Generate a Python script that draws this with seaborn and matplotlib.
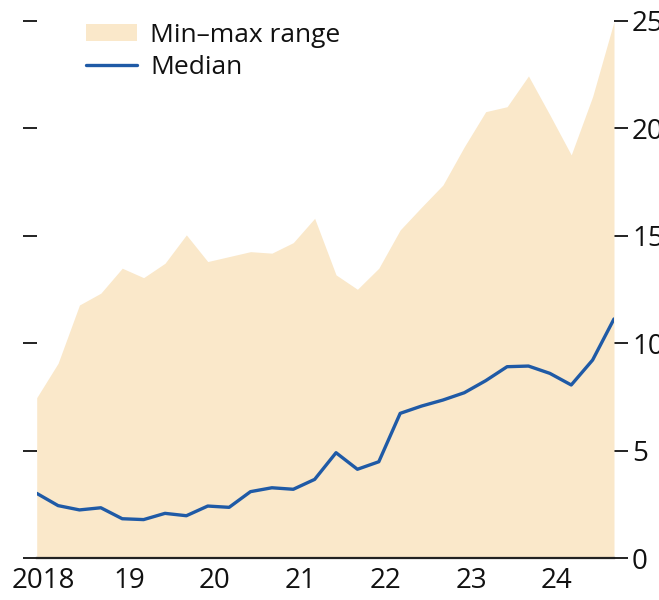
import numpy as np
import pandas as pd
import matplotlib
matplotlib.use("Agg")
import matplotlib.pyplot as plt
import seaborn as sns
from matplotlib.patches import Patch
from matplotlib.lines import Line2D

# ---- data (quarterly, 2018 Q1 .. 2024 Q4) ----
quarter_index = list(range(28))
median = [3.02, 2.45, 2.25, 2.35, 1.84, 1.80, 2.09, 1.98, 2.43, 2.37,
          3.10, 3.28, 3.21, 3.67, 4.91, 4.14, 4.49, 6.74, 7.08, 7.36,
          7.70, 8.26, 8.91, 8.94, 8.60, 8.06, 9.22, 11.13]
range_max = [7.47, 9.07, 11.78, 12.33, 13.49, 13.05, 13.72, 15.04, 13.80, 14.03,
             14.26, 14.19, 14.68, 15.81, 13.18, 12.51, 13.49, 15.27, 16.33, 17.36,
             19.14, 20.77, 21.00, 22.43, 20.62, 18.76, 21.47, 24.96]
range_min = [0.0] * 28
year_ticks = [0.33, 4.33, 8.33, 12.33, 16.33, 20.33, 24.33]
year_labels = ["2018", "19", "20", "21", "22", "23", "24"]
y_ticks = [0, 5, 10, 15, 20, 25]

df = pd.DataFrame({"q": quarter_index, "median": median,
                   "max": range_max, "min": range_min})

sns.set_theme(style="white")
plt.rcParams["font.family"] = ["Open Sans", "DejaVu Sans"]

fill_col = "#FAE8CA"
line_col = "#1F5AA6"

fig = plt.figure(figsize=(6.59, 6.00), dpi=100)
ax = fig.add_axes([0.0557, 0.0695, 0.876, 0.896])

ax.fill_between(df["q"], df["min"], df["max"], color=fill_col, lw=0, zorder=1)
sns.lineplot(data=df, x="q", y="median", ax=ax, color=line_col, lw=2.4, zorder=3)

ax.set_xlim(0, 27)
ax.set_ylim(0, 25)
ax.set_xlabel("")
ax.set_ylabel("")

for s in ["top", "left", "right"]:
    ax.spines[s].set_visible(False)
ax.spines["bottom"].set_color("#222222")
ax.spines["bottom"].set_linewidth(1.6)
ax.spines["bottom"].set_zorder(4)

ax.set_xticks(year_ticks)
ax.set_xticklabels(year_labels)
ax.tick_params(axis="x", direction="in", length=8, width=1.6, color="#222222",
               labelsize=20, pad=6, labelcolor="#111111")

ax.set_yticks(y_ticks)
ax.yaxis.set_ticks_position("both")
ax.tick_params(axis="y", which="both", direction="out", length=10, width=1.4,
               color="#222222", labelleft=False, labelright=True,
               labelsize=20, pad=3, labelcolor="#111111")

handles = [Patch(facecolor=fill_col, edgecolor="none", label="Min–max range"),
           Line2D([0], [0], color=line_col, lw=2.4, label="Median")]
leg = ax.legend(handles=handles, loc="upper left",
                bbox_to_anchor=(86 / 659, 1 - 23 / 600),
                bbox_transform=fig.transFigure,
                frameon=False, fontsize=19, handlelength=1.93, handleheight=0.58,
                handletextpad=0.5, labelspacing=0.25, borderaxespad=0,
                borderpad=0)
for t in leg.get_texts():
    t.set_color("#111111")

fig.savefig("out.png", dpi=100)
